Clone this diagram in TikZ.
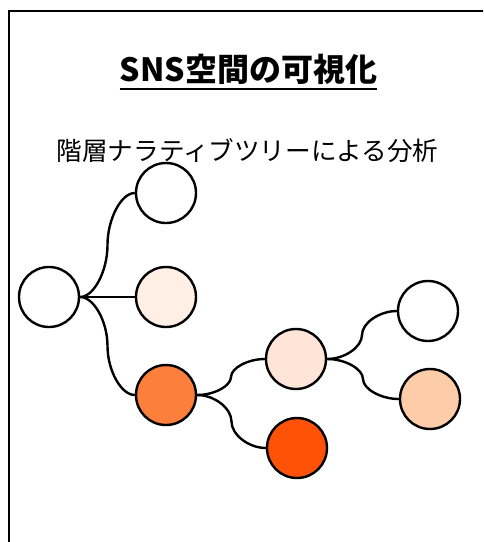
\documentclass[tikz,border=0pt]{standalone}
\usepackage{fontspec}
\setmainfont{Noto Sans CJK JP}
\usetikzlibrary{calc}
\definecolor{cA}{HTML}{FFEFE4}
\definecolor{cB}{HTML}{FD7F3C}
\definecolor{cC}{HTML}{FEE5D8}
\definecolor{cD}{HTML}{FE5208}
\definecolor{cE}{HTML}{FDCCA8}
\tikzset{
  bubble/.style={circle,draw=black,line width=2.4pt,minimum size=60pt,inner sep=0pt,fill=white},
  sconn/.style={line width=2.4pt,to path={let \p1=(\tikztostart), \p2=(\tikztotarget) in
    .. controls ({0.75*\x1+0.25*\x2},\y1) and ({0.5*\x1+0.5*\x2},{0.75*\y1+0.25*\y2}) ..
    ({0.5*\x1+0.5*\x2},{0.5*\y1+0.5*\y2})
    .. controls ({0.5*\x1+0.5*\x2},{0.25*\y1+0.75*\y2}) and ({0.25*\x1+0.75*\x2},\y2) ..
    (\tikztotarget)}},
  titletext/.style={inner sep=0pt,font=\fontsize{32}{38}\selectfont\bfseries},
  subtext/.style={inner sep=0pt,font=\fontsize{25.6}{30}\selectfont}
}
\begin{document}
\begin{tikzpicture}[x=1pt,y=-1pt]
\useasboundingbox (0,0) rectangle (483,542);
\coordinate (fb) at (9,600);
\coordinate (ftl) at (9,11);
\coordinate (fr) at (600,11);
\begin{scope}
\clip (0,0) rectangle (483,542);
\draw[line width=2.4pt,line join=miter] (fb) -- (ftl) -- (fr);
\end{scope}
\node[titletext] (title) at (248.5,69) {SNS空間の可視化};
\draw[line width=2pt] ([yshift=-8pt]title.base west) -- ([yshift=-8pt]title.base east);
\node[subtext] (sub) at (247.5,151) {階層ナラティブツリーによる分析};
\node[bubble] (r) at (49,297) {};
\node[bubble] (n1) at (166,193) {};
\node[bubble,fill=cA] (n2) at (166,297) {};
\node[bubble,fill=cB] (n3) at (166,395) {};
\node[bubble,fill=cC] (n4) at (296,359) {};
\node[bubble,fill=cD] (n5) at (297,448) {};
\node[bubble] (n6) at (428,311) {};
\node[bubble,fill=cE] (n7) at (430,399) {};
\draw[sconn] (r.east) to (n1.west);
\draw[sconn] (r.east) to (n2.west);
\draw[sconn] (r.east) to (n3.west);
\draw[sconn] (n3.east) to (n4.west);
\draw[sconn] (n3.east) to (n5.west);
\draw[sconn] (n4.east) to (n6.west);
\draw[sconn] (n4.east) to (n7.west);
\end{tikzpicture}
\end{document}
